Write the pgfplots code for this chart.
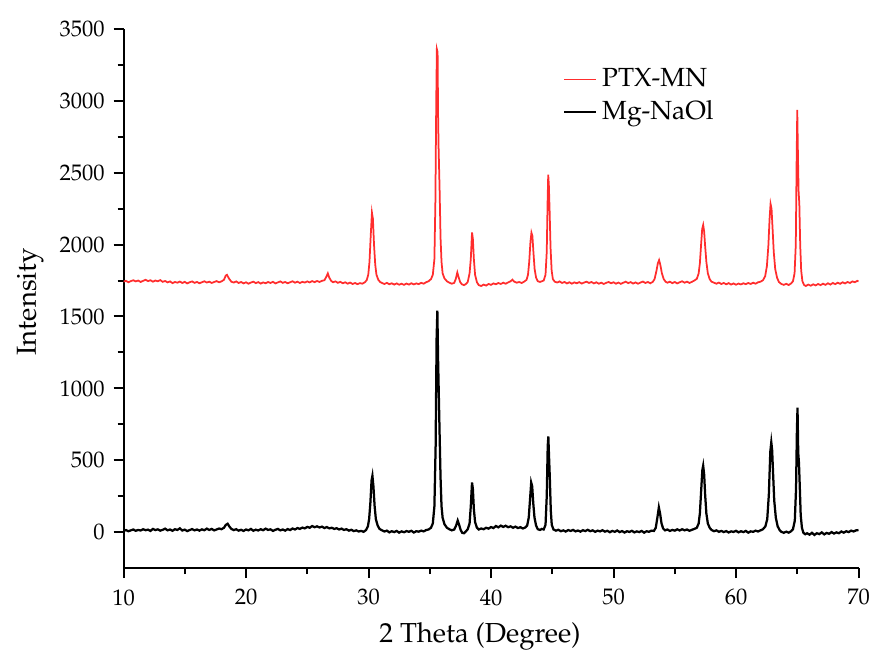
\documentclass[border=0pt]{standalone}
\usepackage[T1]{fontenc}
\usepackage{mathpazo}
\usepackage{pgfplots}
\pgfplotsset{compat=1.18}
\definecolor{xrdred}{RGB}{255,45,45}
\begin{document}
\begin{tikzpicture}
\begin{axis}[
  name=ax,
  scale only axis,
  width=294pt, height=215.6pt,
  xmin=10, xmax=70, ymin=-250, ymax=3500,
  axis lines=left,
  axis line style={-, line width=0.8pt},
  every tick/.style={black, line width=0.8pt},
  tick align=outside,
  major tick length=4pt,
  minor tick length=2.4pt,
  minor x tick num=1, minor y tick num=1,
  xtick={10,20,30,40,50,60,70},
  ytick={0,500,1000,1500,2000,2500,3000,3500},
  /pgf/number format/1000 sep={},
  ticklabel style={font=\fontsize{9}{11}\selectfont},
  yticklabel style={xshift=0pt},
  xticklabel style={yshift=-1pt},
  xlabel={2 Theta (Degree)},
  ylabel={Intensity},
  xlabel style={font=\fontsize{11}{13}\selectfont, at={(axis description cs:0.485,-0.126)}, anchor=center},
  ylabel style={font=\fontsize{11}{13}\selectfont, at={(axis description cs:-0.127,0.494)}, anchor=center},
  legend style={draw=none, fill=none, at={(axis description cs:0.587,0.946)}, anchor=north west,
    font=\fontsize{10.5}{12}\selectfont, row sep=0pt},
  legend cell align=left,
  legend image code/.code={\draw[#1] (0cm,0cm) -- (0.45cm,0cm);},
]
\addplot[xrdred, line width=0.7pt] coordinates {
(10.0,1742)(10.2,1748)(10.4,1738)(10.6,1746)(10.8,1752)(11.0,1744)(11.2,1750)(11.4,1740)(11.6,1748)(11.8,1755)
(12.0,1746)(12.2,1752)(12.4,1742)(12.6,1750)(12.8,1745)(13.0,1753)(13.2,1741)(13.4,1747)(13.6,1737)(13.8,1744)
(14.0,1732)(14.2,1740)(14.4,1735)(14.6,1743)(14.8,1733)(15.0,1741)(15.2,1730)(15.4,1738)(15.6,1744)(15.8,1734)
(16.0,1740)(16.2,1731)(16.4,1738)(16.6,1745)(16.8,1736)(17.0,1742)(17.2,1733)(17.4,1740)(17.6,1746)(17.8,1738)
(18.0,1744)(18.2,1755)(18.35,1785)(18.45,1790)(18.6,1765)(18.8,1742)(19.0,1736)(19.2,1744)(19.4,1733)(19.6,1740)
(19.8,1730)(20.0,1738)(20.2,1728)(20.4,1736)(20.6,1742)(20.8,1732)(21.0,1739)(21.2,1729)(21.4,1737)(21.6,1731)
(21.8,1740)(22.0,1733)(22.2,1741)(22.4,1730)(22.6,1737)(22.8,1744)(23.0,1734)(23.2,1740)(23.4,1731)(23.6,1738)
(23.8,1745)(24.0,1735)(24.2,1742)(24.4,1733)(24.6,1741)(24.8,1736)(25.0,1744)(25.2,1737)(25.4,1746)(25.6,1739)
(25.8,1747)(26.0,1740)(26.2,1748)(26.4,1752)(26.55,1775)(26.68,1800)(26.8,1770)(26.95,1748)(27.1,1738)(27.3,1744)
(27.5,1734)(27.7,1741)(27.9,1731)(28.1,1738)(28.3,1728)(28.5,1736)(28.7,1726)(28.9,1733)(29.1,1725)(29.3,1732)
(29.5,1728)(29.7,1738)(29.85,1752)(29.98,1790)(30.08,1880)(30.18,2060)(30.28,2222)(30.36,2180)(30.45,2000)(30.55,1860)
(30.65,1790)(30.8,1755)(30.95,1740)(31.1,1733)(31.3,1726)(31.5,1734)(31.7,1724)(31.9,1731)(32.1,1722)(32.3,1730)
(32.5,1721)(32.7,1728)(32.9,1720)(33.1,1729)(33.3,1722)(33.5,1731)(33.7,1723)(33.9,1730)(34.1,1725)(34.3,1734)
(34.5,1728)(34.7,1738)(34.9,1745)(35.1,1760)(35.25,1790)(35.38,1900)(35.46,2300)(35.53,3000)(35.58,3360)(35.64,3340)
(35.68,2900)(35.72,2680)(35.8,2400)(35.88,2050)(35.96,1880)(36.05,1800)(36.2,1765)(36.4,1745)(36.6,1735)(36.8,1728)
(37.0,1734)(37.12,1760)(37.25,1806)(37.35,1775)(37.48,1740)(37.62,1724)(37.8,1718)(37.95,1726)(38.1,1740)(38.25,1800)
(38.35,1900)(38.45,2085)(38.52,2040)(38.6,1900)(38.7,1790)(38.85,1738)(39.0,1718)(39.2,1712)(39.4,1722)(39.6,1715)
(39.8,1726)(40.0,1720)(40.2,1730)(40.4,1724)(40.6,1733)(40.8,1726)(41.0,1735)(41.2,1728)(41.4,1737)(41.6,1745)
(41.75,1756)(41.9,1742)(42.1,1735)(42.3,1740)(42.5,1733)(42.7,1742)(42.9,1755)(43.02,1790)(43.12,1880)(43.22,2020)
(43.3,2083)(43.38,2060)(43.46,1950)(43.56,1830)(43.68,1770)(43.82,1745)(44.0,1740)(44.15,1745)(44.3,1750)(44.45,1790)
(44.55,1950)(44.62,2300)(44.67,2486)(44.72,2420)(44.78,2250)(44.86,1980)(44.95,1820)(45.05,1760)(45.2,1742)(45.4,1736)
(45.6,1744)(45.8,1733)(46.0,1740)(46.2,1730)(46.4,1738)(46.6,1728)(46.8,1737)(47.0,1731)(47.2,1739)(47.4,1729)
(47.6,1736)(47.8,1742)(48.0,1733)(48.2,1740)(48.4,1730)(48.6,1738)(48.8,1728)(49.0,1735)(49.2,1726)(49.4,1734)
(49.6,1740)(49.8,1731)(50.0,1738)(50.2,1728)(50.4,1736)(50.6,1727)(50.8,1735)(51.0,1742)(51.2,1732)(51.4,1739)
(51.6,1729)(51.8,1737)(52.0,1728)(52.2,1736)(52.4,1743)(52.6,1733)(52.8,1740)(53.0,1731)(53.2,1740)(53.35,1760)
(53.5,1815)(53.62,1870)(53.72,1892)(53.82,1860)(53.95,1800)(54.1,1760)(54.25,1742)(54.4,1735)(54.6,1742)(54.8,1732)
(55.0,1740)(55.2,1730)(55.4,1738)(55.6,1745)(55.8,1735)(56.0,1742)(56.2,1733)(56.4,1741)(56.6,1750)(56.8,1762)
(56.95,1800)(57.05,1870)(57.15,2000)(57.24,2110)(57.32,2137)(57.4,2090)(57.48,1990)(57.58,1880)(57.7,1800)(57.85,1760)
(58.0,1742)(58.2,1735)(58.4,1728)(58.6,1736)(58.8,1726)(59.0,1733)(59.2,1724)(59.4,1732)(59.6,1722)(59.8,1730)
(60.0,1721)(60.2,1729)(60.4,1723)(60.6,1731)(60.8,1725)(61.0,1733)(61.2,1726)(61.4,1735)(61.6,1728)(61.8,1738)
(62.0,1742)(62.2,1752)(62.38,1780)(62.52,1850)(62.64,1990)(62.74,2180)(62.82,2283)(62.9,2250)(62.98,2120)(63.08,1950)
(63.2,1830)(63.35,1770)(63.5,1740)(63.7,1726)(63.9,1720)(64.1,1727)(64.3,1719)(64.5,1730)(64.65,1745)(64.78,1800)
(64.88,2000)(64.95,2600)(65.0,2937)(65.06,2600)(65.11,2370)(65.17,2280)(65.24,2000)(65.32,1820)(65.42,1745)(65.55,1720)
(65.7,1712)(65.9,1722)(66.1,1714)(66.3,1724)(66.5,1716)(66.7,1726)(66.9,1718)(67.1,1728)(67.3,1720)(67.5,1731)
(67.7,1722)(67.9,1733)(68.1,1725)(68.3,1735)(68.5,1727)(68.7,1738)(68.9,1730)(69.1,1740)(69.3,1733)(69.5,1744)
(69.7,1738)(69.9,1748)(70.0,1745)
};
\addlegendentry{PTX-MN}
\addplot[black, line width=0.9pt] coordinates {
(10.0,8)(10.2,14)(10.4,6)(10.6,12)(10.8,18)(11.0,9)(11.2,15)(11.4,11)(11.6,20)(11.8,13)
(12.0,17)(12.2,8)(12.4,22)(12.6,14)(12.8,19)(13.0,10)(13.2,16)(13.4,24)(13.6,12)(13.8,18)
(14.0,9)(14.2,20)(14.4,15)(14.6,26)(14.8,11)(15.0,17)(15.2,7)(15.4,14)(15.6,21)(15.8,12)
(16.0,18)(16.2,10)(16.4,19)(16.6,13)(16.8,24)(17.0,15)(17.2,22)(17.4,12)(17.6,18)(17.8,25)
(18.0,20)(18.2,30)(18.35,50)(18.5,58)(18.65,38)(18.8,22)(19.0,14)(19.2,20)(19.4,10)(19.6,16)
(19.8,8)(20.0,18)(20.2,12)(20.4,22)(20.6,9)(20.8,17)(21.0,11)(21.2,20)(21.4,13)(21.6,24)
(21.8,15)(22.0,19)(22.2,8)(22.4,16)(22.6,22)(22.8,12)(23.0,18)(23.2,10)(23.4,21)(23.6,14)
(23.8,25)(24.0,18)(24.2,28)(24.4,22)(24.6,31)(24.8,26)(25.0,36)(25.2,30)(25.4,42)(25.6,34)
(25.8,40)(26.0,32)(26.2,38)(26.4,28)(26.6,35)(26.8,26)(27.0,30)(27.2,22)(27.4,27)(27.6,18)
(27.8,24)(28.0,15)(28.2,20)(28.4,10)(28.6,16)(28.8,7)(29.0,12)(29.2,4)(29.4,8)(29.6,2)
(29.8,14)(29.95,40)(30.05,90)(30.15,200)(30.25,360)(30.32,392)(30.4,320)(30.5,180)(30.6,90)(30.75,45)
(30.9,22)(31.1,12)(31.3,4)(31.5,10)(31.7,-2)(31.9,6)(32.1,0)(32.3,8)(32.5,-4)(32.7,5)
(32.9,-1)(33.1,7)(33.3,2)(33.5,9)(33.7,-3)(33.9,6)(34.1,3)(34.3,10)(34.5,5)(34.7,14)
(34.9,18)(35.1,30)(35.25,60)(35.38,180)(35.48,600)(35.56,1350)(35.62,1540)(35.68,1200)(35.74,950)(35.8,700)
(35.88,380)(35.96,180)(36.05,100)(36.2,55)(36.4,30)(36.6,20)(36.8,12)(37.0,18)(37.15,45)(37.28,80)
(37.4,50)(37.52,15)(37.65,-5)(37.8,-8)(37.95,5)(38.1,20)(38.25,60)(38.35,180)(38.45,345)(38.52,300)
(38.6,160)(38.7,70)(38.85,30)(39.0,18)(39.2,25)(39.4,20)(39.6,30)(39.8,24)(40.0,35)(40.2,28)
(40.4,42)(40.6,33)(40.8,45)(41.0,36)(41.2,44)(41.4,34)(41.6,40)(41.8,30)(42.0,38)(42.2,28)
(42.4,34)(42.6,25)(42.8,32)(42.95,45)(43.08,100)(43.18,220)(43.28,345)(43.36,320)(43.45,200)(43.55,100)
(43.68,45)(43.82,20)(44.0,15)(44.15,22)(44.3,18)(44.45,50)(44.55,250)(44.63,600)(44.68,665)(44.74,520)
(44.8,380)(44.88,150)(44.96,50)(45.1,18)(45.3,10)(45.5,16)(45.7,6)(45.9,12)(46.1,4)(46.3,14)
(46.5,8)(46.7,15)(46.9,5)(47.1,11)(47.3,3)(47.5,13)(47.7,7)(47.9,16)(48.1,6)(48.3,12)
(48.5,2)(48.7,10)(48.9,5)(49.1,13)(49.3,3)(49.5,9)(49.7,-1)(49.9,8)(50.1,2)(50.3,11)
(50.5,0)(50.7,7)(50.9,-3)(51.1,6)(51.3,1)(51.5,9)(51.7,-2)(51.9,5)(52.1,0)(52.3,8)
(52.5,-4)(52.7,6)(52.9,2)(53.1,10)(53.3,8)(53.45,30)(53.58,100)(53.7,172)(53.8,130)(53.92,60)
(54.05,25)(54.2,12)(54.4,18)(54.6,8)(54.8,15)(55.0,10)(55.2,19)(55.4,11)(55.6,20)(55.8,12)
(56.0,18)(56.2,9)(56.4,16)(56.6,22)(56.8,30)(56.95,60)(57.05,130)(57.15,280)(57.25,430)(57.32,462)
(57.4,400)(57.48,260)(57.58,130)(57.7,60)(57.85,30)(58.0,15)(58.2,6)(58.4,12)(58.6,2)(58.8,8)
(59.0,0)(59.2,7)(59.4,-3)(59.6,5)(59.8,1)(60.0,9)(60.2,-2)(60.4,6)(60.6,0)(60.8,8)
(61.0,-4)(61.2,5)(61.4,2)(61.6,10)(61.8,4)(62.0,12)(62.2,20)(62.4,40)(62.55,90)(62.68,260)
(62.8,560)(62.88,625)(62.95,570)(63.03,400)(63.12,220)(63.25,100)(63.4,40)(63.55,15)(63.7,2)(63.9,-5)
(64.1,3)(64.3,-4)(64.5,6)(64.65,20)(64.8,80)(64.9,300)(64.97,700)(65.02,865)(65.08,550)(65.14,480)
(65.2,330)(65.28,120)(65.38,30)(65.5,-5)(65.65,-15)(65.8,-8)(66.0,-18)(66.2,-5)(66.4,-20)(66.6,-8)
(66.8,-14)(67.0,-2)(67.2,-16)(67.4,-6)(67.6,-12)(67.8,0)(68.0,-10)(68.2,-2)(68.4,-8)(68.6,4)
(68.8,-4)(69.0,6)(69.2,0)(69.4,10)(69.6,4)(69.8,12)(70.0,14)
};
\addlegendentry{Mg-NaOl}
\end{axis}
\pgfresetboundingbox
\path[use as bounding box] ([shift={(-49.4pt,-32.8pt)}]ax.south west) rectangle ([shift={(4.6pt,11.6pt)}]ax.north east);
\end{tikzpicture}
\end{document}
